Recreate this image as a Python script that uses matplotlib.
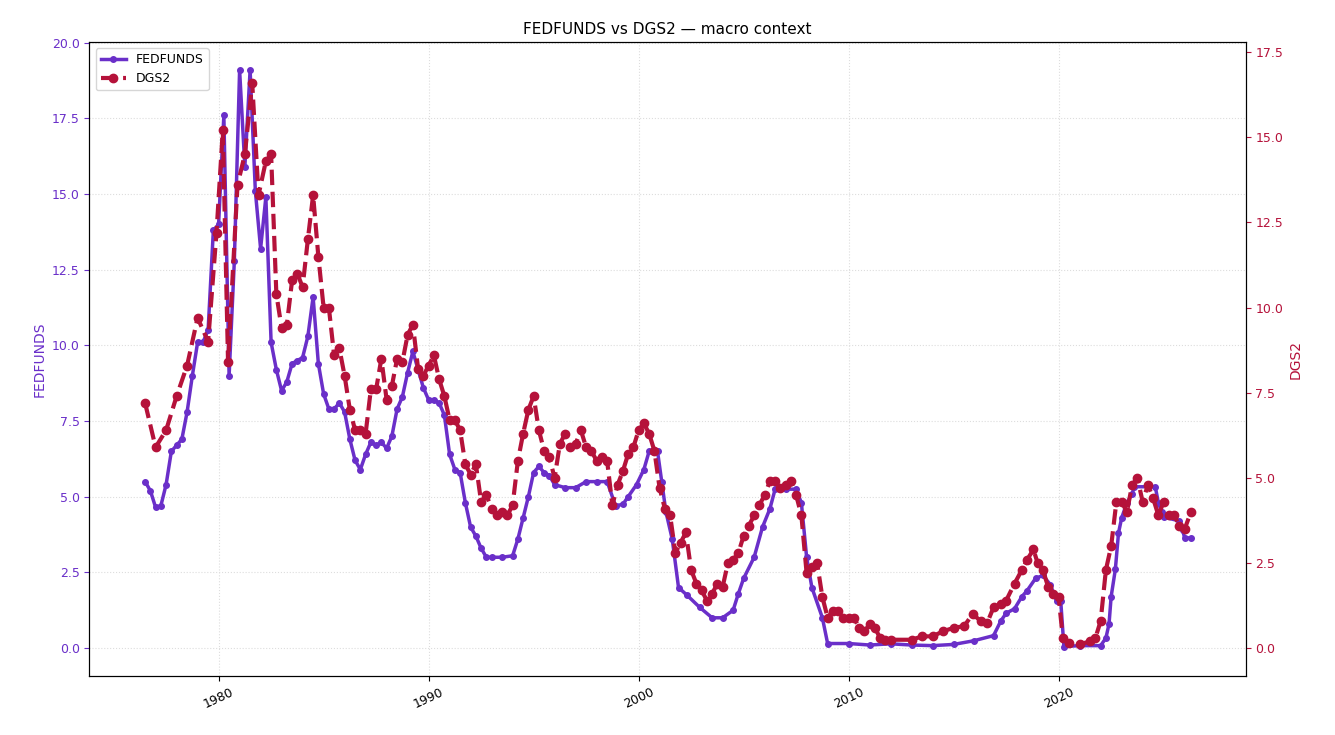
import matplotlib
matplotlib.use("Agg")
import matplotlib.pyplot as plt

ff_t = [1976.5,1976.75,1977.0,1977.25,1977.5,1977.75,1978.0,1978.25,1978.5,1978.75,1979.0,1979.25,1979.5,1979.75,1980.0,1980.25,1980.5,1980.75,1981.0,1981.25,1981.5,1981.75,1982.0,1982.25,1982.5,1982.75,1983.0,1983.25,1983.5,1983.75,1984.0,1984.25,1984.5,1984.75,1985.0,1985.25,1985.5,1985.75,1986.0,1986.25,1986.5,1986.75,1987.0,1987.25,1987.5,1987.75,1988.0,1988.25,1988.5,1988.75,1989.0,1989.25,1989.5,1989.75,1990.0,1990.25,1990.5,1990.75,1991.0,1991.25,1991.5,1991.75,1992.0,1992.25,1992.5,1992.75,1993.0,1993.5,1994.0,1994.25,1994.5,1994.75,1995.0,1995.25,1995.5,1995.75,1996.0,1996.5,1997.0,1997.5,1998.0,1998.5,1998.9,1999.25,1999.5,1999.9,2000.25,2000.5,2000.9,2001.1,2001.3,2001.6,2001.9,2002.3,2002.9,2003.5,2004.0,2004.5,2004.75,2005.0,2005.5,2005.9,2006.25,2006.5,2007.0,2007.5,2007.75,2008.0,2008.25,2008.75,2009.0,2010.0,2011.0,2012.0,2013.0,2014.0,2015.0,2015.95,2016.9,2017.25,2017.5,2017.9,2018.25,2018.5,2018.9,2019.25,2019.6,2019.9,2020.1,2020.25,2021.0,2022.0,2022.25,2022.4,2022.5,2022.7,2022.85,2023.0,2023.25,2023.5,2023.6,2024.6,2024.75,2024.9,2025.0,2025.75,2025.9,2026.0,2026.3]
ff_v = [5.5,5.2,4.65,4.7,5.4,6.5,6.7,6.9,7.8,9.0,10.1,10.1,10.5,13.8,14.0,17.6,9.0,12.8,19.1,15.9,19.1,15.1,13.2,14.9,10.1,9.2,8.5,8.8,9.4,9.5,9.6,10.3,11.6,9.4,8.4,7.9,7.9,8.1,7.8,6.9,6.2,5.9,6.4,6.8,6.7,6.8,6.6,7.0,7.9,8.3,9.1,9.8,9.2,8.6,8.2,8.2,8.1,7.7,6.4,5.9,5.8,4.8,4.0,3.7,3.3,3.0,3.0,3.0,3.05,3.6,4.3,5.0,5.8,6.0,5.8,5.7,5.4,5.3,5.3,5.5,5.5,5.5,4.7,4.75,5.0,5.4,5.9,6.5,6.5,5.5,4.5,3.6,2.0,1.75,1.35,1.0,1.0,1.25,1.8,2.3,3.0,4.0,4.6,5.25,5.25,5.25,4.8,3.0,2.0,1.0,0.15,0.15,0.1,0.14,0.1,0.08,0.12,0.24,0.41,0.9,1.15,1.3,1.7,1.9,2.3,2.4,2.1,1.55,1.55,0.05,0.08,0.08,0.33,0.8,1.7,2.6,3.8,4.3,4.8,5.1,5.33,5.33,4.8,4.5,4.33,4.2,3.9,3.64,3.64]

d2_t = [1976.5,1977.0,1977.5,1978.0,1978.5,1979.0,1979.5,1979.9,1980.2,1980.45,1980.9,1981.25,1981.6,1981.9,1982.25,1982.5,1982.75,1983.0,1983.25,1983.5,1983.75,1984.0,1984.25,1984.5,1984.75,1985.0,1985.25,1985.5,1985.75,1986.0,1986.25,1986.5,1986.75,1987.0,1987.25,1987.5,1987.75,1988.0,1988.25,1988.5,1988.75,1989.0,1989.25,1989.5,1989.75,1990.0,1990.25,1990.5,1990.75,1991.0,1991.25,1991.5,1991.75,1992.0,1992.25,1992.5,1992.75,1993.0,1993.25,1993.5,1993.75,1994.0,1994.25,1994.5,1994.75,1995.0,1995.25,1995.5,1995.75,1996.0,1996.25,1996.5,1996.75,1997.0,1997.25,1997.5,1997.75,1998.0,1998.25,1998.5,1998.75,1999.0,1999.25,1999.5,1999.75,2000.0,2000.25,2000.5,2000.75,2001.0,2001.25,2001.5,2001.75,2002.0,2002.25,2002.5,2002.75,2003.0,2003.25,2003.5,2003.75,2004.0,2004.25,2004.5,2004.75,2005.0,2005.25,2005.5,2005.75,2006.0,2006.25,2006.5,2006.75,2007.0,2007.25,2007.5,2007.75,2008.0,2008.25,2008.5,2008.75,2009.0,2009.25,2009.5,2009.75,2010.0,2010.25,2010.5,2010.75,2011.0,2011.25,2011.5,2011.75,2012.0,2013.0,2013.5,2014.0,2014.5,2015.0,2015.5,2015.9,2016.3,2016.6,2016.9,2017.25,2017.5,2017.9,2018.25,2018.5,2018.8,2019.0,2019.25,2019.5,2019.75,2020.0,2020.2,2020.5,2021.0,2021.5,2021.75,2022.0,2022.25,2022.5,2022.75,2023.0,2023.25,2023.5,2023.75,2024.0,2024.25,2024.5,2024.75,2025.0,2025.25,2025.5,2025.75,2026.0,2026.3]
d2_v = [7.2,5.9,6.4,7.4,8.3,9.7,9.0,12.2,15.2,8.4,13.6,14.5,16.6,13.3,14.3,14.5,10.4,9.4,9.5,10.8,11.0,10.6,12.0,13.3,11.5,10.0,10.0,8.6,8.8,8.0,7.0,6.4,6.4,6.3,7.6,7.6,8.5,7.3,7.7,8.5,8.4,9.2,9.5,8.2,8.0,8.3,8.6,7.9,7.4,6.7,6.7,6.4,5.4,5.1,5.4,4.3,4.5,4.1,3.9,4.0,3.9,4.2,5.5,6.3,7.0,7.4,6.4,5.8,5.6,5.0,6.0,6.3,5.9,6.0,6.4,5.9,5.8,5.5,5.6,5.5,4.2,4.8,5.2,5.7,5.9,6.4,6.6,6.3,5.8,4.7,4.1,3.9,2.8,3.1,3.4,2.3,1.9,1.7,1.4,1.6,1.9,1.8,2.5,2.6,2.8,3.3,3.6,3.9,4.2,4.5,4.9,4.9,4.7,4.8,4.9,4.5,3.9,2.2,2.4,2.5,1.5,0.9,1.1,1.1,0.9,0.9,0.9,0.6,0.5,0.7,0.6,0.3,0.25,0.25,0.25,0.35,0.35,0.5,0.6,0.65,1.0,0.8,0.75,1.2,1.3,1.4,1.9,2.3,2.6,2.9,2.5,2.3,1.8,1.6,1.5,0.3,0.15,0.12,0.2,0.3,0.8,2.3,3.0,4.3,4.3,4.0,4.8,5.0,4.3,4.8,4.4,3.9,4.3,3.9,3.9,3.6,3.5,4.0]

c1 = "#6a2fc9"
c2 = "#b5123a"
fig, ax = plt.subplots(figsize=(13.35, 7.35), dpi=100)
fig.subplots_adjust(left=0.067, right=0.933, top=0.943, bottom=0.08)
ax2 = ax.twinx()
l1, = ax.plot(ff_t, ff_v, color=c1, lw=2.5, marker="o", ms=4, label="FEDFUNDS")
l2, = ax2.plot(d2_t, d2_v, color=c2, lw=3, ls="--", marker="o", ms=6, label="DGS2")
ax.set_xlim(1973.85, 2028.9)
ax.set_ylim(-0.93, 20.03)
ax2.set_ylim(-0.82, 17.8)
ax.set_yticks([0,2.5,5,7.5,10,12.5,15,17.5,20])
ax2.set_yticks([0,2.5,5,7.5,10,12.5,15,17.5])
ax.set_xticks([1980,1990,2000,2010,2020])
for lab in ax.get_xticklabels():
    lab.set_rotation(25)
ax.tick_params(axis="y", colors=c1, labelsize=9)
ax2.tick_params(axis="y", colors=c2, labelsize=9)
ax.tick_params(axis="x", labelsize=9)
ax.set_ylabel("FEDFUNDS", color=c1, fontsize=10)
ax2.set_ylabel("DGS2", color=c2, fontsize=10)
ax.grid(True, ls=":", color="#dddddd", lw=0.8)
ax.set_title("FEDFUNDS vs DGS2 — macro context", fontsize=11)
ax.legend([l1, l2], ["FEDFUNDS", "DGS2"], loc="upper left", fontsize=9)
fig.savefig("out.png", dpi=100)
